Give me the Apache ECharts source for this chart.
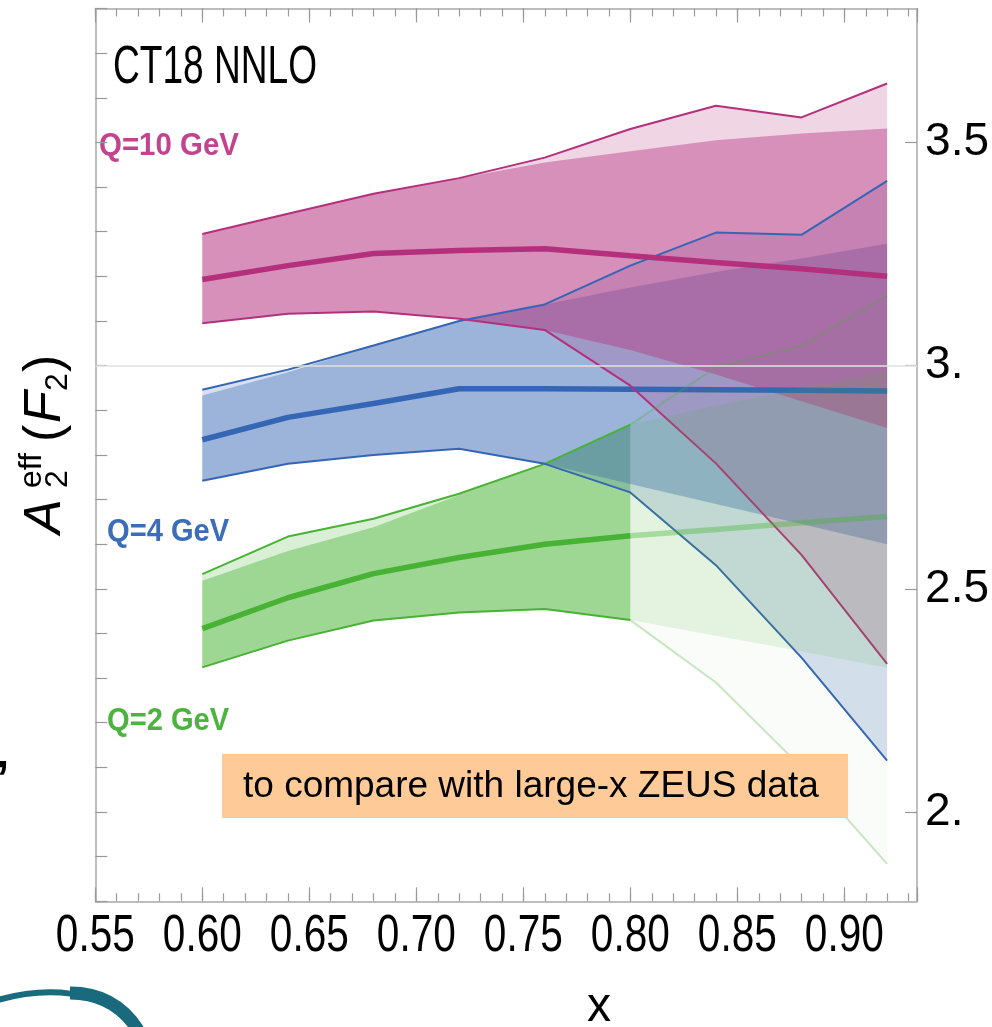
<!DOCTYPE html>
<html>
<head>
<meta charset="utf-8">
<script src="https://cdn.jsdelivr.net/npm/echarts@6/dist/echarts.min.js"></script>
<style>
  html, body { margin: 0; padding: 0; background: #fff; }
  #chart { width: 992px; height: 1027px; }
</style>
</head>
<body>
<div id="chart"></div>
<script>
// x nodes of the CT18 NNLO curves
const xNodes = [0.60, 0.64, 0.68, 0.72, 0.76, 0.80, 0.84, 0.88, 0.92];

// Q = 10 GeV
const q10Upper   = [3.295, 3.340, 3.385, 3.420, 3.466, 3.530, 3.582, 3.556, 3.632];
const q10Central = [3.193, 3.224, 3.251, 3.258, 3.262, 3.246, 3.231, 3.217, 3.200];
const q10Lower   = [3.095, 3.116, 3.121, 3.105, 3.080, 2.955, 2.781, 2.576, 2.332];
const q10BandHi  = [3.295, 3.340, 3.385, 3.420, 3.455, 3.480, 3.505, 3.520, 3.531];
const q10BandLo  = [3.095, 3.116, 3.121, 3.105, 3.080, 3.035, 2.980, 2.920, 2.860];

// Q = 4 GeV
const q4Upper   = [2.946, 2.991, 3.045, 3.100, 3.137, 3.224, 3.298, 3.293, 3.414];
const q4Central = [2.834, 2.884, 2.915, 2.948, 2.948, 2.947, 2.946, 2.945, 2.943];
const q4Lower   = [2.742, 2.780, 2.800, 2.814, 2.780, 2.716, 2.553, 2.346, 2.115];
const q4BandHi  = [2.933, 2.985, 3.045, 3.100, 3.137, 3.175, 3.210, 3.240, 3.273];
const q4BandLo  = [2.742, 2.780, 2.800, 2.814, 2.780, 2.735, 2.690, 2.645, 2.600];

// Q = 2 GeV, x <= 0.80
const q2Nodes   = [0.60, 0.64, 0.68, 0.72, 0.76, 0.80];
const q2Upper   = [2.533, 2.617, 2.657, 2.713, 2.780, 2.868];
const q2Central = [2.411, 2.480, 2.534, 2.570, 2.600, 2.619];
const q2Lower   = [2.324, 2.384, 2.429, 2.447, 2.455, 2.430];
const q2BandHi  = [2.518, 2.585, 2.638, 2.710, 2.780, 2.868];
const q2BandLo  = [2.324, 2.384, 2.429, 2.447, 2.455, 2.430];

// Q = 2 GeV, x >= 0.80 (faded)
const q2xNodes   = [0.80, 0.84, 0.88, 0.92];
const q2xUpper   = [2.868, 2.996, 3.045, 3.157];
const q2xCentral = [2.619, 2.633, 2.648, 2.662];
const q2xLower   = [2.430, 2.290, 2.100, 1.884];
const q2xBandHi  = [2.868, 2.910, 2.950, 2.990];
const q2xBandLo  = [2.430, 2.395, 2.360, 2.323];

// axes
const xMin = 0.55, xMax = 0.934;
const yMin = 1.8, yMax = 3.8;
const xTickValues = [0.55, 0.60, 0.65, 0.70, 0.75, 0.80, 0.85, 0.90];
const xTickLabels = ['0.55', '0.60', '0.65', '0.70', '0.75', '0.80', '0.85', '0.90'];
const yTickValues = [2, 2.5, 3, 3.5];
const yTickLabels = ['2.', '2.5', '3.', '3.5'];
const gridValue = 3.0;

const seriesLabels = ['Q=10 GeV', 'Q=4 GeV', 'Q=2 GeV'];
const plotTitle = 'CT18 NNLO';
const noteText = 'to compare with large-x ZEUS data';

const PINK = '#b4307c', BLUE = '#3566b5', GREEN = '#48b234';
const rgba = (hex, a) => {
  const n = parseInt(hex.slice(1), 16);
  return `rgba(${(n >> 16) & 255},${(n >> 8) & 255},${n & 255},${a})`;
};

function band(xs, hi, lo, fill) {
  return {
    type: 'custom',
    xAxisIndex: 0, yAxisIndex: 0,
    silent: true,
    data: xs.map((x, i) => [x, hi[i]]),
    renderItem(params, api) {
      if (params.dataIndex !== 0) return null;
      const pts = [];
      xs.forEach((x, i) => pts.push(api.coord([x, hi[i]])));
      for (let i = xs.length - 1; i >= 0; i--) pts.push(api.coord([xs[i], lo[i]]));
      return { type: 'polygon', shape: { points: pts }, style: { fill } };
    }
  };
}

function curve(xs, ys, color, width, extra) {
  return Object.assign({
    type: 'line',
    xAxisIndex: 0, yAxisIndex: 0,
    silent: true,
    symbol: 'none',
    data: xs.map((x, i) => [x, ys[i]]),
    lineStyle: { color, width },
    z: 3
  }, extra || {});
}

const frameLine = { show: true, lineStyle: { color: '#a8a8a8', width: 1.5 } };
const tickStyle = { color: '#9a9a9a', width: 1.2 };
const gridRect = { left: 95.3, right: 74.8, top: 8.5, bottom: 125.7 };

const option = {
  animation: false,
  backgroundColor: '#fff',
  grid: [Object.assign({}, gridRect), Object.assign({}, gridRect)],
  xAxis: [
    { type: 'value', gridIndex: 0, position: 'bottom', min: xMin, max: xMax, interval: 0.05,
      axisLine: frameLine, axisTick: { inside: true, length: 14, lineStyle: tickStyle },
      axisLabel: { show: false }, splitLine: { show: false } },
    { type: 'value', gridIndex: 0, position: 'top', min: xMin, max: xMax, interval: 0.05,
      axisLine: frameLine, axisTick: { inside: true, length: 14, lineStyle: tickStyle },
      axisLabel: { show: false }, splitLine: { show: false } },
    { type: 'value', gridIndex: 1, position: 'bottom', min: xMin, max: xMax, interval: 0.01,
      axisLine: { show: false }, axisTick: { inside: true, length: 8, lineStyle: tickStyle },
      axisLabel: { show: false }, splitLine: { show: false } },
    { type: 'value', gridIndex: 1, position: 'top', min: xMin, max: xMax, interval: 0.01,
      axisLine: { show: false }, axisTick: { inside: true, length: 8, lineStyle: tickStyle },
      axisLabel: { show: false }, splitLine: { show: false } }
  ],
  yAxis: [
    { type: 'value', gridIndex: 0, position: 'left', min: yMin, max: yMax, interval: 0.1,
      axisLine: frameLine, axisTick: { inside: true, length: 12, lineStyle: tickStyle },
      axisLabel: { show: false }, splitLine: { show: false } },
    { type: 'value', gridIndex: 0, position: 'right', min: yMin, max: yMax,
      axisLine: frameLine,
      axisTick: { inside: true, length: 12, lineStyle: tickStyle, customValues: yTickValues },
      axisLabel: {
        customValues: yTickValues,
        formatter: v => {
          const i = yTickValues.findIndex(t => Math.abs(t - v) < 1e-9);
          return i >= 0 ? yTickLabels[i] : '';
        },
        fontFamily: 'Liberation Sans', fontSize: 46, color: '#000', margin: 8
      },
      splitLine: { show: false } },
    { type: 'value', gridIndex: 1, min: yMin, max: yMax, show: false }
  ],
  series: [
    // error bands: green underneath, then blue, then pink
    band(q2Nodes, q2Upper, q2Lower, rgba(GREEN, 0.2)),
    band(q2Nodes, q2BandHi, q2BandLo, rgba(GREEN, 0.41)),
    band(xNodes, q4Upper, q4Lower, rgba(BLUE, 0.2)),
    band(xNodes, q4BandHi, q4BandLo, rgba(BLUE, 0.37)),
    band(xNodes, q10Upper, q10Lower, rgba(PINK, 0.2)),
    band(xNodes, q10BandHi, q10BandLo, rgba(PINK, 0.42)),
    // Q = 2 GeV curves (with the 3.0 reference line)
    curve(q2Nodes, q2Upper, GREEN, 2, {
      markLine: {
        silent: true, symbol: 'none', label: { show: false },
        lineStyle: { color: '#e2e2e2', width: 1.5, type: 'solid' },
        data: [{ yAxis: gridValue }]
      }
    }),
    curve(q2Nodes, q2Lower, GREEN, 2),
    curve(q2Nodes, q2Central, GREEN, 5.5),
    // Q = 4 GeV curves
    curve(xNodes, q4Upper, BLUE, 2),
    curve(xNodes, q4Lower, BLUE, 2),
    curve(xNodes, q4Central, BLUE, 5.5),
    // Q = 10 GeV curves
    curve(xNodes, q10Upper, PINK, 2),
    curve(xNodes, q10Lower, PINK, 2),
    curve(xNodes, q10Central, PINK, 5.5),
    // Q = 2 GeV, faded part
    Object.assign(band(q2xNodes, q2xUpper, q2xLower, rgba(GREEN, 0.035)), { z: 4 }),
    Object.assign(band(q2xNodes, q2xBandHi, q2xBandLo, rgba(GREEN, 0.12)), { z: 4 }),
    curve(q2xNodes, q2xUpper, rgba(GREEN, 0.3), 2, { z: 4 }),
    curve(q2xNodes, q2xLower, rgba(GREEN, 0.3), 2, { z: 4 }),
    curve(q2xNodes, q2xCentral, rgba(GREEN, 0.38), 5.5, { z: 4 })
  ]
};

const chart = echarts.init(document.getElementById('chart'), null, { renderer: 'canvas' });
chart.setOption(option);

const FONT = '"Liberation Sans", Arial, sans-serif';
function txt(text, x, y, font, fill, extra) {
  return Object.assign({
    type: 'text', x, y, silent: true,
    style: { text, font, fill, align: 'left', verticalAlign: 'middle' }
  }, extra || {});
}

const graphics = [];

// x tick labels
xTickValues.forEach((v, i) => {
  const px = chart.convertToPixel({ xAxisIndex: 0 }, v);
  const el = txt(xTickLabels[i], px, 937, '52px ' + FONT, '#000', { scaleX: 0.78 });
  el.style.align = 'center';
  graphics.push(el);
});

// x axis title
const xTitle = txt('x', 599, 1008, '48px ' + FONT, '#000');
xTitle.style.align = 'center';
graphics.push(xTitle);

// y axis title A_2^eff(F_2)
graphics.push({
  type: 'group', x: 46, y: 534, rotation: Math.PI / 2, silent: true,
  children: [
    txt('A', 0, 0, 'italic 52px ' + FONT, '#000'),
    txt('eff', 46, -14, '32px ' + FONT, '#000'),
    txt('2', 46, 12, '32px ' + FONT, '#000'),
    txt('(', 92, 0, '52px ' + FONT, '#000'),
    txt('F', 111, 0, 'italic 52px ' + FONT, '#000'),
    txt('2', 143, 12, '32px ' + FONT, '#000'),
    txt(')', 162, 0, '52px ' + FONT, '#000')
  ]
});

// plot title and curve labels
graphics.push(txt(plotTitle, 113, 68, '53px ' + FONT, '#000', { scaleX: 0.70 }));
graphics.push(txt(seriesLabels[0], 99, 146, 'bold 32px ' + FONT, '#c2448f', { scaleX: 0.92 }));
graphics.push(txt(seriesLabels[1], 107, 532, 'bold 32px ' + FONT, '#3b6db8', { scaleX: 0.91 }));
graphics.push(txt(seriesLabels[2], 107, 721, 'bold 32px ' + FONT, '#4cb43e', { scaleX: 0.91 }));

// note box
graphics.push({
  type: 'rect', silent: true, z: 10,
  shape: { x: 222, y: 754, width: 626, height: 64 },
  style: { fill: '#fdca98' }
});
const note = txt(noteText, 243, 787, '37px ' + FONT, '#000');
note.z = 11;
graphics.push(note);

// slide fragments at the edges
graphics.push({
  type: 'bezierCurve', silent: true,
  shape: { x1: -2, y1: 1000, cpx1: 40, cpy1: 988, cpx2: 102, cpy2: 985, x2: 140, y2: 1030 },
  style: { stroke: '#1a6a7e', lineWidth: 6, fill: null }
});
graphics.push({
  type: 'bezierCurve', silent: true,
  shape: { x1: 70, y1: 993, cpx1: 100, cpy1: 993, cpx2: 122, cpy2: 1005, x2: 138, y2: 1030 },
  style: { stroke: '#1a6a7e', lineWidth: 13, fill: null }
});
graphics.push(txt('\u2019', -4, 781, 'bold 48px ' + FONT, '#000'));

chart.setOption({ graphic: graphics });
</script>
</body>
</html>
